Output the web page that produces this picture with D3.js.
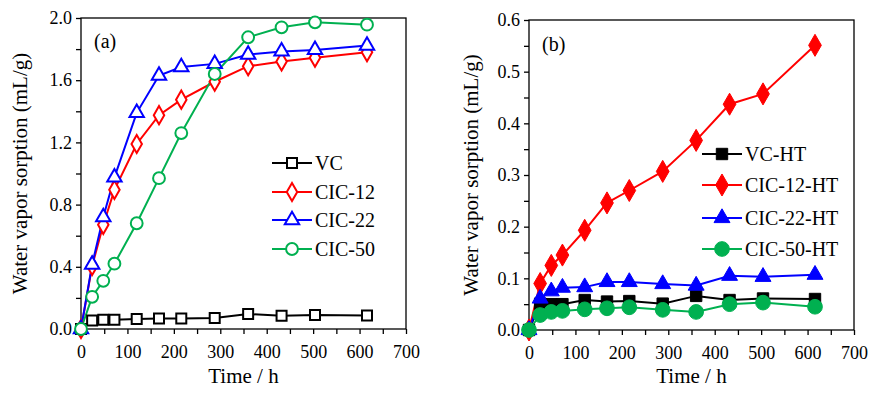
<!DOCTYPE html>
<html>
<head>
<meta charset="utf-8">
<script src="https://cdn.jsdelivr.net/npm/d3@7"></script>
<style>
body { margin: 0; background: #fff; }
</style>
</head>
<body>
<div id="chart"></div>
<script>
var hours = [0, 24, 48, 72, 120, 168, 216, 288, 360, 432, 504, 616];

// panel (a)
var vc = [0, 0.055, 0.06, 0.06, 0.064, 0.068, 0.068, 0.07, 0.096, 0.086, 0.09, 0.087];
var cic12 = [0, 0.405, 0.67, 0.895, 1.19, 1.375, 1.475, 1.59, 1.69, 1.72, 1.745, 1.78];
var cic22 = [0, 0.415, 0.72, 0.975, 1.39, 1.63, 1.685, 1.705, 1.765, 1.785, 1.795, 1.823];
var cic50 = [0, 0.207, 0.31, 0.42, 0.68, 0.97, 1.26, 1.64, 1.876, 1.94, 1.972, 1.957];

// panel (b)
var vcHT = [0, 0.051, 0.05, 0.05, 0.058, 0.055, 0.056, 0.051, 0.066, 0.058, 0.061, 0.06];
var cic12HT = [0, 0.09, 0.125, 0.145, 0.193, 0.246, 0.27, 0.307, 0.367, 0.437, 0.457, 0.551];
var cic22HT = [0, 0.061, 0.075, 0.082, 0.083, 0.093, 0.093, 0.089, 0.086, 0.105, 0.103, 0.107];
var cic50HT = [0, 0.029, 0.035, 0.037, 0.04, 0.042, 0.044, 0.039, 0.035, 0.05, 0.053, 0.045];

var xTicks = [0, 100, 200, 300, 400, 500, 600, 700];
var yTicksA = [0, 0.4, 0.8, 1.2, 1.6, 2.0];
var yTicksB = [0, 0.1, 0.2, 0.3, 0.4, 0.5, 0.6];

var FONT = "Liberation Serif";

var svg = d3.select("#chart").append("svg")
    .attr("width", 879)
    .attr("height", 396)
    .attr("font-family", FONT);

function drawMarker(g, shape, x, y, color, filled) {
    var sym;
    if (shape == "square") sym = d3.symbol().type(d3.symbolSquare).size(filled ? 130 : 100);
    if (shape == "diamond") sym = d3.symbol().type(d3.symbolDiamond).size(filled ? 140 : 95);
    if (shape == "triangle") sym = d3.symbol().type(d3.symbolTriangle).size(filled ? 110 : 90);
    if (shape == "circle") sym = d3.symbol().type(d3.symbolCircle).size(filled ? 170 : 110);
    g.append("path")
        .attr("d", sym())
        .attr("transform", "translate(" + x + "," + y + ")")
        .attr("fill", filled ? color : "#fff")
        .attr("stroke", color)
        .attr("stroke-width", filled ? 1 : 2);
}

function panel(opt) {
    var x = d3.scaleLinear().domain([0, 700]).range([opt.left, opt.right]);
    var y = d3.scaleLinear().domain([0, opt.ymax]).range([opt.bottom, opt.top]);
    var g = svg.append("g");

    // frame
    g.append("rect")
        .attr("x", opt.left).attr("y", opt.top)
        .attr("width", opt.right - opt.left).attr("height", opt.bottom - opt.top)
        .attr("fill", "none").attr("stroke", "#000").attr("stroke-width", 1.3);

    // x axis with minor ticks
    var xAxis = g.append("g").attr("transform", "translate(0," + opt.bottom + ")")
        .call(d3.axisBottom(x).tickValues(d3.range(0, 701, 50)).tickSize(5)
            .tickFormat(function (d) { return xTicks.indexOf(d) >= 0 ? d : ""; }));
    xAxis.select(".domain").remove();
    xAxis.selectAll("text").attr("font-family", FONT).attr("font-size", 18)
        .attr("fill", "#000").attr("y", 12).attr("dy", "0.95em");
    xAxis.selectAll("line").attr("stroke-width", 1.3);

    var yAxis = g.append("g").attr("transform", "translate(" + opt.left + ",0)")
        .call(d3.axisLeft(y).tickValues(opt.minor).tickSize(5)
            .tickFormat(function (d) { return opt.yTicks.some(function (t) { return Math.abs(t - d) < 1e-9; }) ? d3.format(".1f")(d) : ""; }));
    yAxis.select(".domain").remove();
    yAxis.selectAll("text").attr("font-family", FONT).attr("font-size", 18)
        .attr("fill", "#000").attr("x", -9);
    yAxis.selectAll("line").attr("stroke-width", 1.3);

    svg.append("text")
        .attr("x", (opt.left + opt.right) / 2)
        .attr("y", 383)
        .attr("text-anchor", "middle")
        .attr("font-family", FONT)
        .attr("font-size", 21)
        .text("Time / h");

    svg.append("text")
        .attr("transform", "translate(" + opt.ytitleX + "," + ((opt.top + opt.bottom) / 2) + ") rotate(-90)")
        .attr("text-anchor", "middle")
        .attr("font-family", FONT)
        .attr("font-size", 21)
        .text("Water vapor sorption (mL/g)");

    svg.append("text")
        .attr("x", opt.labelX).attr("y", opt.labelY)
        .attr("font-family", FONT)
        .attr("font-size", 20)
        .text(opt.label);

    var line = d3.line()
        .x(function (d, i) { return x(hours[i]); })
        .y(function (d) { return y(d); });

    opt.series.forEach(function (s) {
        g.append("path")
            .attr("d", line(s.values))
            .attr("fill", "none")
            .attr("stroke", s.color)
            .attr("stroke-width", 2);
    });
    opt.series.forEach(function (s) {
        s.values.forEach(function (v, i) {
            drawMarker(g, s.shape, x(hours[i]), y(v), s.color, opt.filled);
        });
    });

    // legend
    opt.series.forEach(function (s, i) {
        var ly = opt.legendY[i];
        g.append("line")
            .attr("x1", opt.legendX).attr("x2", opt.legendX + 40)
            .attr("y1", ly).attr("y2", ly)
            .attr("stroke", s.color).attr("stroke-width", 2);
        drawMarker(g, s.shape, opt.legendX + 20, ly, s.color, opt.filled);
        g.append("text")
            .attr("x", opt.legendX + 43).attr("y", ly + 7)
            .attr("font-family", FONT)
            .attr("font-size", 20)
            .text(s.name);
    });
}

panel({
    left: 81, right: 406, top: 18, bottom: 329,
    ymax: 2.0, yTicks: yTicksA, minor: d3.range(0, 2.01, 0.2),
    ytitleX: 27, label: "(a)", labelX: 94, labelY: 48,
    filled: false,
    legendX: 272, legendY: [163, 192, 220, 249],
    series: [
        { name: "VC", values: vc, color: "#000000", shape: "square" },
        { name: "CIC-12", values: cic12, color: "#ff0000", shape: "diamond" },
        { name: "CIC-22", values: cic22, color: "#0000ff", shape: "triangle" },
        { name: "CIC-50", values: cic50, color: "#00b050", shape: "circle" }
    ]
});

panel({
    left: 529, right: 854, top: 20, bottom: 330,
    ymax: 0.6, yTicks: yTicksB, minor: d3.range(0, 0.601, 0.05),
    ytitleX: 478, label: "(b)", labelX: 542, labelY: 51,
    filled: true,
    legendX: 702, legendY: [154, 185, 218, 249],
    series: [
        { name: "VC-HT", values: vcHT, color: "#000000", shape: "square" },
        { name: "CIC-12-HT", values: cic12HT, color: "#ff0000", shape: "diamond" },
        { name: "CIC-22-HT", values: cic22HT, color: "#0000ff", shape: "triangle" },
        { name: "CIC-50-HT", values: cic50HT, color: "#00b050", shape: "circle" }
    ]
});
</script>
</body>
</html>
